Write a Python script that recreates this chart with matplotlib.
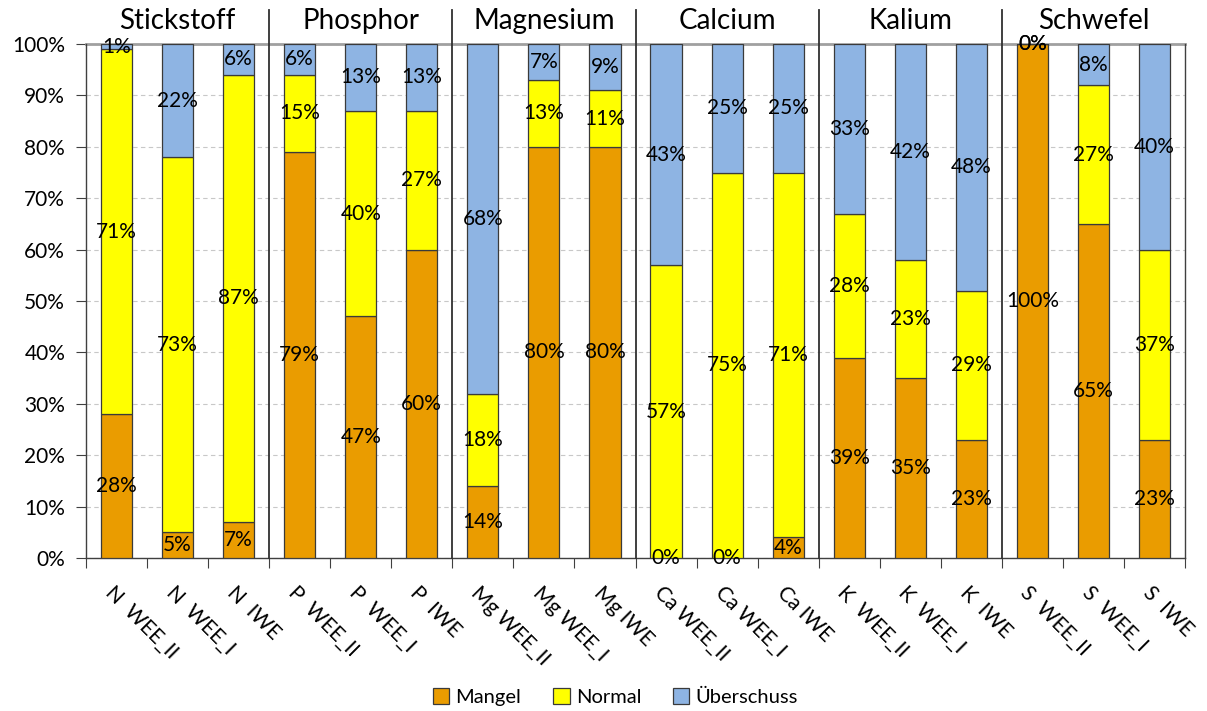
import matplotlib
matplotlib.use("Agg")
import matplotlib.pyplot as plt
import numpy as np
from matplotlib.patches import Patch

plt.rcParams['font.family'] = ['Lato', 'DejaVu Sans']

categories = ["N  WEE_II", "N  WEE_I", "N  IWE",
              "P  WEE_II", "P  WEE_I", "P  IWE",
              "Mg WEE_II", "Mg WEE_I", "Mg IWE",
              "Ca WEE_II", "Ca WEE_I", "Ca IWE",
              "K  WEE_II", "K  WEE_I", "K  IWE",
              "S  WEE_II", "S  WEE_I", "S  IWE"]
groups = ["Stickstoff", "Phosphor", "Magnesium", "Calcium", "Kalium", "Schwefel"]

mangel = [28, 5, 7, 79, 47, 60, 14, 80, 80, 0, 0, 4, 39, 35, 23, 100, 65, 23]
normal = [71, 73, 87, 15, 40, 27, 18, 13, 11, 57, 75, 71, 28, 23, 29, 0, 27, 37]
ueberschuss = [1, 22, 6, 6, 13, 13, 68, 7, 9, 43, 25, 25, 33, 42, 48, 0, 8, 40]

series = [("Mangel", mangel, "#EA9C00"),
          ("Normal", normal, "#FFFF00"),
          ("Überschuss", ueberschuss, "#8EB4E3")]

fig = plt.figure(figsize=(12.07, 7.11), dpi=100)
ax = fig.add_axes([86/1207, 1-558/711, (1185-86)/1207, (558-44)/711])

x = np.arange(len(categories))
bottom = np.zeros(len(categories))
for name, vals, col in series:
    vals = np.array(vals, dtype=float)
    ax.bar(x, vals, bottom=bottom, width=0.51, color=col, edgecolor="#3a3a3a",
           linewidth=0.9, label=name, zorder=3)
    for xi, b, v in zip(x, bottom, vals):
        ax.text(xi, b + v/2, f"{int(round(v))}%", ha="center", va="center",
                fontsize=15, color="black", zorder=5)
    bottom += vals

ax.set_xlim(-0.5, len(categories) - 0.5)
ax.set_ylim(0, 100)
ax.set_yticks(np.arange(0, 101, 10))
ax.set_yticklabels([f"{v}%" for v in range(0, 101, 10)], fontsize=15)
ax.yaxis.grid(True, linestyle=(0, (4, 3)), color="#c8c8c8", linewidth=0.8, zorder=0)
ax.axhline(100, color="#a0a0a0", linewidth=2, zorder=2, clip_on=False)

ax.set_xticks(np.arange(-0.5, len(categories), 1.0))
ax.set_xticklabels([])
ax.tick_params(axis="x", direction="out", length=7, color="#404040")
ax.tick_params(axis="y", direction="out", length=7, color="#404040", pad=8)

for xi, lab in zip(x, categories):
    ax.text(xi - 0.02, -4.8, lab, rotation=-45, ha="left", va="top",
            rotation_mode="anchor", fontsize=15, transform=ax.transData)

ax.spines["top"].set_visible(False)
for s in ["left", "bottom", "right"]:
    ax.spines[s].set_color("#404040")
    ax.spines[s].set_linewidth(1.0)

for g in range(1, len(groups)):
    ax.plot([3*g - 0.5, 3*g - 0.5], [0, 106.6], color="#303030", linewidth=1.3,
            clip_on=False, zorder=4)
for g, name in enumerate(groups):
    ax.text(3*g + 1, 104.4, name, ha="center", va="center", fontsize=20)

handles = [Patch(facecolor=c, edgecolor="#3a3a3a", linewidth=0.9, label=n) for n, _, c in series]
fig.legend(handles=handles, loc="center", bbox_to_anchor=(0.51, 1-697/711), ncol=3,
           frameon=False, fontsize=14.5, handlelength=0.8, handleheight=0.8,
           columnspacing=1.6, handletextpad=0.3)

fig.savefig("out.png", dpi=100)
